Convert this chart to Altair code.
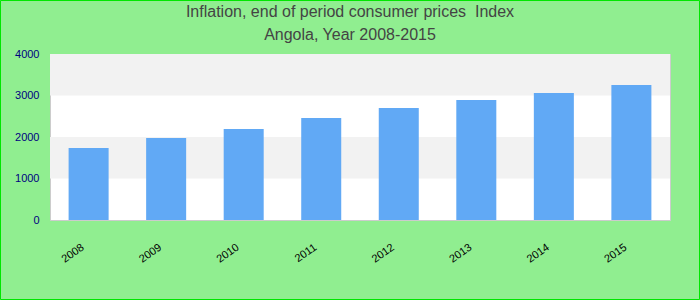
import altair as alt
import pandas as pd

years = ["2008", "2009", "2010", "2011", "2012", "2013", "2014", "2015"]
values = [1735, 1976, 2193, 2458, 2699, 2892, 3060, 3253]
band_lo = [1000, 3000]
band_hi = [2000, 4000]
y_ticks = [0, 1000, 2000, 3000, 4000]
title_lines = ["Inflation, end of period consumer prices\u00a0 Index", "Angola, Year 2008-2015"]

df = pd.DataFrame({"year": years, "value": values})
bands = pd.DataFrame({"lo": band_lo, "hi": band_hi})
one = pd.DataFrame({"k": [0]})

y_scale = alt.Scale(domain=[0, 4000], nice=False)
x_scale = alt.Scale(paddingInner=0.484, paddingOuter=0.24)
y_axis = alt.Axis(title=None, values=y_ticks, format="d", labelFontSize=11,
                  labelColor="#000080", labelFont="Liberation Sans",
                  ticks=False, domain=False, grid=False, labelPadding=11)

band_layer = alt.Chart(bands).mark_rect(color="#f2f2f2").encode(
    y=alt.Y("lo:Q", scale=y_scale, axis=y_axis),
    y2="hi:Q",
)

bars = alt.Chart(df).mark_bar(color="#61a9f5").encode(
    x=alt.X("year:N", scale=x_scale, sort=years,
            axis=alt.Axis(title=None, labelAngle=-35, labelFontSize=11,
                          labelColor="#000000", labelFont="Liberation Sans",
                          ticks=False, domain=False, labelPadding=21,
                          labelOffset=-9)),
    y=alt.Y("value:Q", scale=y_scale, axis=y_axis),
)

t1 = alt.Chart(one).mark_text(text=title_lines[0], fontSize=16, font="Liberation Sans",
                              fontWeight="normal", color="#444444", align="center",
                              baseline="alphabetic").encode(
    x=alt.value(300), y=alt.value(-37))
t2 = alt.Chart(one).mark_text(text=title_lines[1], fontSize=16, font="Liberation Sans",
                              fontWeight="normal", color="#444444", align="center",
                              baseline="alphabetic").encode(
    x=alt.value(300), y=alt.value(-14))

frame = alt.Chart(one).mark_rect(fill=None, stroke="#00e600", strokeWidth=1).encode(
    x=alt.value(-49.5), x2=alt.value(649.5), y=alt.value(-53.5), y2=alt.value(245.5)
)

chart = alt.layer(band_layer, bars, t1, t2, frame).properties(
    width=620,
    height=166,
    autosize=alt.AutoSizeParams(type="none"),
    padding={"left": 50, "top": 54, "right": 30, "bottom": 80},
    background="#90ee90",
).configure_view(fill="#ffffff", stroke="#cccccc", strokeWidth=1)

chart.save("out.html", embed_options={"renderer": "svg", "actions": False})
